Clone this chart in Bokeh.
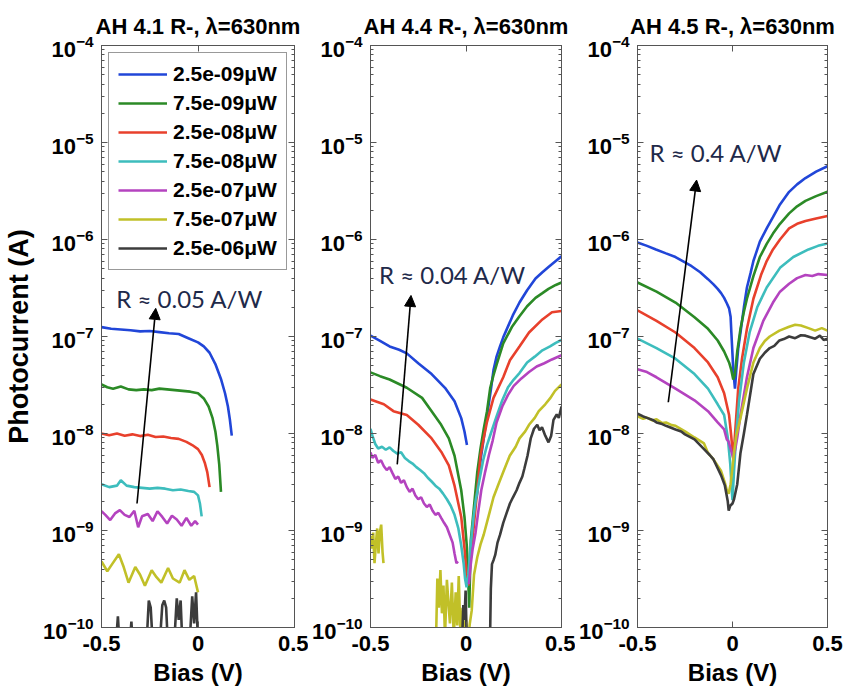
from bokeh.plotting import figure
from bokeh.layouts import row
from bokeh.models import (Range1d, LinearAxis, LogAxis, FixedTicker, LogTickFormatter,
                          CustomJSTickFormatter, Arrow, NormalHead, Label)
from bokeh.embed import file_html
from bokeh.resources import INLINE

NAN = float("nan")

# ---------------------------------------------------------------- labels
power_labels = ["2.5e-09μW", "7.5e-09μW", "2.5e-08μW", "7.5e-08μW",
                "2.5e-07μW", "7.5e-07μW", "2.5e-06μW"]
line_colors = ["#2146d8", "#2b8a26", "#e8402c", "#3dbdbd", "#b443bf", "#c1c028", "#3c3c3c"]
panel_titles = ["AH 4.1 R-, λ=630nm", "AH 4.4 R-, λ=630nm", "AH 4.5 R-, λ=630nm"]
responsivity_notes = ["R ≈ 0.05 A/W", "R ≈ 0.04 A/W", "R ≈ 0.4 A/W"]
bias_ticks = [-0.5, 0.0, 0.5]
bias_tick_labels = ["-0.5", "0", "0.5"]
current_decades = [1e-10, 1e-9, 1e-8, 1e-7, 1e-6, 1e-5, 1e-4]

# ---------------------------------------------------------------- AH 4.1
ah41_blue_v = [-0.5, -0.45, -0.4, -0.35, -0.3, -0.25, -0.2, -0.15, -0.1, -0.05, 0.0, 0.03,
               0.06, 0.09, 0.12, 0.14, 0.155, 0.165, 0.175]
ah41_blue_i = [1.25e-7, 1.2e-7, 1.18e-7, 1.16e-7, 1.13e-7, 1.14e-7, 1.11e-7, 1.08e-7, 1.06e-7,
               9.6e-8, 8.7e-8, 7.9e-8, 6.8e-8, 5.2e-8, 3.6e-8, 2.6e-8, 1.9e-8, 1.4e-8, 9.5e-9]

ah41_green_v = [-0.5, -0.47, -0.44, -0.4, -0.36, -0.32, -0.28, -0.24, -0.2, -0.16, -0.12, -0.08,
                -0.04, 0.0, 0.03, 0.055, 0.075, 0.09, 0.1, 0.11, 0.119]
ah41_green_i = [3.2e-8, 3.0e-8, 2.9e-8, 3.05e-8, 2.85e-8, 2.8e-8, 2.85e-8, 2.8e-8, 2.9e-8, 2.85e-8,
                2.8e-8, 2.75e-8, 2.7e-8, 2.6e-8, 2.3e-8, 1.9e-8, 1.45e-8, 1.05e-8, 7.5e-9, 4.8e-9, 2.5e-9]

ah41_red_v = [-0.5, -0.46, -0.42, -0.38, -0.34, -0.3, -0.26, -0.22, -0.18, -0.14, -0.1, -0.06,
              -0.03, 0.0, 0.02, 0.035, 0.048, 0.06]
ah41_red_i = [1.0e-8, 9.6e-9, 1.0e-8, 9.5e-9, 9.8e-9, 9.4e-9, 9.7e-9, 9.2e-9, 9.3e-9, 9.0e-9,
              8.8e-9, 8.2e-9, 7.6e-9, 6.9e-9, 6.0e-9, 5.0e-9, 4.0e-9, 2.8e-9]

ah41_cyan_v = [-0.5, -0.46, -0.42, -0.4, -0.37, -0.33, -0.29, -0.25, -0.21, -0.17, -0.13, -0.09,
               -0.05, -0.02, 0.0, 0.01, 0.019]
ah41_cyan_i = [3.0e-9, 2.8e-9, 2.9e-9, 3.3e-9, 2.9e-9, 2.8e-9, 2.75e-9, 2.7e-9, 2.75e-9, 2.7e-9,
               2.6e-9, 2.65e-9, 2.55e-9, 2.5e-9, 2.3e-9, 1.9e-9, 1.4e-9]

ah41_magenta_v = [-0.5, -0.48, -0.455, -0.43, -0.405, -0.38, -0.355, -0.33, -0.31, -0.29, -0.26,
                  -0.235, -0.21, -0.185, -0.16, -0.135, -0.11, -0.085, -0.06, -0.035, -0.015, 0.0]
ah41_magenta_i = [1.58e-9, 1.45e-9, 1.28e-9, 1.5e-9, 1.62e-9, 1.45e-9, 1.38e-9, 1.6e-9, 1.08e-9,
                  1.4e-9, 1.48e-9, 1.25e-9, 1.58e-9, 1.38e-9, 1.18e-9, 1.42e-9, 1.3e-9, 1.12e-9,
                  1.35e-9, 1.12e-9, 1.25e-9, 1.15e-9]

ah41_yellow_v = [-0.5, -0.47, -0.445, -0.41, -0.385, -0.36, -0.325, -0.3, -0.275, -0.24, -0.215,
                 -0.19, -0.155, -0.13, -0.095, -0.07, -0.045, -0.02, 0.0]
ah41_yellow_i = [4.8e-10, 3.8e-10, 4.5e-10, 5.7e-10, 4.2e-10, 2.9e-10, 4.2e-10, 3.5e-10, 2.7e-10,
                 3.9e-10, 3.3e-10, 2.9e-10, 4.1e-10, 3.2e-10, 2.9e-10, 3.9e-10, 3.1e-10, 3.4e-10, 2.3e-10]

ah41_black_v = [-0.43, -0.415, -0.405, -0.36, -0.345, -0.335, -0.27, -0.255, -0.245, -0.235, -0.2,
                -0.185, -0.175, -0.165, -0.155, -0.125, -0.11, -0.1, -0.09, -0.08, -0.045, -0.03,
                -0.02, -0.01, 0.0]
ah41_black_i = [5e-11, 1.3e-10, 6e-11, 5e-11, 1.15e-10, 5e-11, 5e-11, 1.9e-10, 1.6e-10, 7e-11, 6e-11,
                1.7e-10, 1.9e-10, 1.6e-10, 6e-11, 6e-11, 2.0e-10, 1.2e-10, 1.9e-10, 6e-11, 6e-11,
                2.1e-10, 1.1e-10, 2.3e-10, 7e-11]

# ---------------------------------------------------------------- AH 4.4
ah44_blue_v = [-0.5, -0.45, -0.4, -0.35, -0.31, -0.25, -0.18, -0.11, -0.06, -0.025, -0.008, 0.005,
               NAN, 0.056, 0.068, 0.08, 0.093, 0.106, 0.119, 0.132, 0.144, 0.16, 0.178, 0.195,
               0.212, 0.245, 0.28, 0.32, 0.364, 0.4, 0.432, 0.47, 0.5]
ah44_blue_i = [1.02e-7, 9.0e-8, 7.9e-8, 7.3e-8, 6.7e-8, 5.3e-8, 4.1e-8, 2.96e-8, 2.15e-8, 1.44e-8,
               1.05e-8, 7.6e-9, NAN, 2.15e-9, 4.0e-9, 6.0e-9, 8.9e-9, 1.35e-8, 2.0e-8, 3.0e-8,
               4.5e-8, 6.2e-8, 7.9e-8, 9.8e-8, 1.17e-7, 1.65e-7, 2.24e-7, 3.0e-7, 3.96e-7, 4.6e-7,
               5.2e-7, 6.0e-7, 6.7e-7]

ah44_green_v = [-0.5, -0.45, -0.4, -0.31, -0.23, -0.18, -0.13, -0.09, -0.06, -0.025, -0.008, 0.005,
                0.017, 0.025, 0.042, 0.059, 0.076, 0.093, 0.11, 0.127, 0.144, 0.161, 0.195, 0.24,
                0.28, 0.32, 0.364, 0.4, 0.432, 0.47, 0.5]
ah44_green_i = [4.27e-8, 3.9e-8, 3.6e-8, 2.96e-8, 2.33e-8, 1.7e-8, 1.23e-8, 8.9e-9, 5.9e-9, 2.6e-9,
                1.38e-9, 6.6e-10, 1.6e-10, 7.9e-10, 1.78e-9, 4.0e-9, 7.0e-9, 1.12e-8, 1.7e-8,
                2.96e-8, 4.0e-8, 5.2e-8, 8.5e-8, 1.25e-7, 1.62e-7, 2.05e-7, 2.5e-7, 2.8e-7, 3.1e-7,
                3.4e-7, 3.6e-7]

ah44_red_v = [-0.5, -0.43, -0.38, -0.31, -0.25, -0.18, -0.13, -0.09, -0.06, -0.025, -0.008, 0.003,
              0.012, 0.025, 0.042, 0.059, 0.076, 0.093, 0.11, 0.144, 0.195, 0.23, 0.28, 0.33, 0.4,
              0.45, 0.5]
ah44_red_i = [2.24e-8, 2.0e-8, 1.7e-8, 1.55e-8, 1.23e-8, 8.9e-9, 6.5e-9, 4.7e-9, 2.9e-9, 1.38e-9,
              6.6e-10, 3.5e-10, 2.7e-10, 5.2e-10, 1.18e-9, 2.6e-9, 5.9e-9, 9.0e-9, 1.32e-8, 2.33e-8,
              3.8e-8, 5.7e-8, 7.9e-8, 1.1e-7, 1.5e-7, 1.78e-7, 1.83e-7]

ah44_cyan_v = [-0.5, -0.49, -0.475, -0.46, -0.44, -0.42, -0.4, -0.38, -0.36, -0.34, -0.32, -0.3,
               -0.28, -0.26, -0.24, -0.22, -0.2, -0.18, -0.16, -0.14, -0.12, -0.1, -0.08, -0.06,
               -0.04, -0.025, -0.012, -0.005, 0.003, 0.012, 0.02, 0.03, 0.04, 0.05, 0.07, 0.09,
               0.11, 0.13, 0.16, 0.19, 0.22, 0.25, 0.28, 0.32, 0.36, 0.4, 0.44, 0.47, 0.5]
ah44_cyan_i = [1.12e-8, 9.5e-9, 7.8e-9, 7.0e-9, 7.3e-9, 6.8e-9, 7.2e-9, 6.6e-9, 6.2e-9, 6.4e-9,
               5.6e-9, 5.2e-9, 4.9e-9, 4.5e-9, 4.2e-9, 3.9e-9, 3.5e-9, 3.2e-9, 2.9e-9, 2.7e-9,
               2.4e-9, 2.1e-9, 1.8e-9, 1.45e-9, 1.05e-9, 7e-10, 4.5e-10, 3.2e-10, 2.6e-10, 3.5e-10,
               5.5e-10, 9e-10, 1.4e-9, 2.0e-9, 3.3e-9, 5.3e-9, 7.6e-9, 1.0e-8, 1.5e-8, 2.2e-8,
               3.0e-8, 3.6e-8, 4.2e-8, 5.4e-8, 6.2e-8, 7.2e-8, 7.9e-8, 8.6e-8, 9.2e-8]

ah44_magenta_v = [-0.5, -0.49, -0.475, -0.46, -0.445, -0.43, -0.415, -0.4, -0.385, -0.37, -0.355,
                  -0.34, -0.325, -0.31, -0.295, -0.28, -0.265, -0.25, -0.235, -0.22, -0.205, -0.19,
                  -0.175, -0.16, -0.145, -0.13, -0.115, -0.1, -0.085, -0.07, -0.06, -0.05, -0.042,
                  NAN, 0.015, 0.025, 0.035, 0.05, 0.065, 0.08, 0.1, 0.12, 0.14, 0.16, 0.19, 0.22,
                  0.25, 0.29, 0.33, 0.37, 0.41, 0.45, 0.5]
ah44_magenta_i = [6.4e-9, 5.6e-9, 6.0e-9, 5.0e-9, 5.3e-9, 4.6e-9, 4.2e-9, 4.5e-9, 3.9e-9, 3.4e-9,
                  3.6e-9, 3.1e-9, 3.3e-9, 2.8e-9, 2.5e-9, 2.7e-9, 2.3e-9, 2.1e-9, 2.2e-9, 1.9e-9,
                  1.75e-9, 1.85e-9, 1.6e-9, 1.45e-9, 1.52e-9, 1.35e-9, 1.2e-9, 1.08e-9, 9e-10,
                  7.5e-10, 5.8e-10, 4.6e-10, 4.8e-10, NAN, 2.8e-10, 4.5e-10, 6.5e-10, 9.5e-10,
                  1.6e-9, 2.6e-9, 4.0e-9, 6.0e-9, 8.5e-9, 1.3e-8, 1.9e-8, 2.5e-8, 3.1e-8, 3.7e-8,
                  4.3e-8, 4.9e-8, 5.3e-8, 5.8e-8, 6.4e-8]

ah44_yellow_v = [-0.5, -0.493, -0.486, -0.479, -0.472, -0.465, -0.458, -0.451, -0.444, -0.437,
                 -0.432, NAN, -0.158, -0.15, -0.142, -0.134, -0.126, -0.118, -0.11, -0.1, -0.092,
                 -0.084, -0.074, -0.064, -0.054, -0.046, -0.038, -0.028, -0.018, -0.01, 0.0, 0.01,
                 0.02, 0.03, 0.042, 0.059, 0.076, 0.093, 0.12, 0.144, 0.17, 0.195, 0.229, 0.26,
                 0.28, 0.31, 0.33, 0.36, 0.381, 0.415, 0.44, 0.466, 0.5]
ah44_yellow_i = [8.8e-10, 6.5e-10, 9.5e-10, 4.6e-10, 7.2e-10, 1.05e-9, 5.8e-10, 9.6e-10, 1.15e-9,
                 6.0e-10, 4.6e-10, NAN, 6e-11, 3.2e-10, 1.6e-10, 3.9e-10, 1.4e-10, 2.7e-10, 8e-11,
                 3.1e-10, 1.8e-10, 1.1e-10, 2.9e-10, 8e-11, 2.3e-10, 1.05e-10, 3.4e-10, 7e-11,
                 1.6e-10, 7e-11, 1.2e-10, 7e-11, 1.1e-10, 1.5e-10, 3.5e-10, 5.3e-10, 7.2e-10,
                 9.1e-10, 1.45e-9, 2.2e-9, 3.0e-9, 4.0e-9, 5.9e-9, 7.3e-9, 8.9e-9, 1.05e-8,
                 1.23e-8, 1.45e-8, 1.7e-8, 2.0e-8, 2.3e-8, 2.75e-8, 3.2e-8]

ah44_black_v = [-0.022, -0.014, -0.008, -0.002, 0.004, NAN, 0.125, 0.13, 0.136, 0.145, 0.153,
                0.165, 0.178, 0.195, 0.212, 0.23, 0.246, 0.265, 0.28, 0.295, 0.305, 0.322, 0.339,
                0.356, 0.373, 0.385, 0.398, 0.415, 0.432, 0.446, 0.458, 0.475, 0.486, 0.5]
ah44_black_i = [6e-11, 1.7e-10, 1.2e-10, 2.4e-10, 7e-11, NAN, 6e-11, 2.5e-10, 4.5e-10, 5.0e-10,
                5.6e-10, 7.5e-10, 9.0e-10, 1.2e-9, 1.5e-9, 1.9e-9, 2.2e-9, 2.6e-9, 3.1e-9, 3.6e-9,
                4.3e-9, 5.9e-9, 8.9e-9, 1.12e-8, 1.23e-8, 1.08e-8, 1.16e-8, 9.5e-9, 8.1e-9, 9.5e-9,
                1.38e-8, 1.57e-8, 1.45e-8, 1.9e-8]

# ---------------------------------------------------------------- AH 4.5
ah45_blue_v = [-0.5, -0.45, -0.403, -0.35, -0.3, -0.25, -0.215, -0.17, -0.129, -0.1, -0.078, -0.06,
               -0.044, -0.03, -0.018, -0.01, -0.006, 0.0, 0.004, 0.013, 0.02, 0.03, 0.042, 0.06,
               0.076, 0.095, 0.11, 0.144, 0.18, 0.213, 0.25, 0.298, 0.34, 0.384, 0.44, 0.5]
ah45_blue_i = [9.3e-7, 8.6e-7, 7.9e-7, 7.2e-7, 6.6e-7, 5.8e-7, 5.3e-7, 4.6e-7, 3.9e-7, 3.45e-7,
               3.1e-7, 2.8e-7, 2.5e-7, 2.2e-7, 1.95e-7, 1.6e-7, 1.1e-7, 6.5e-8, 4.5e-8, 2.9e-8,
               4.5e-8, 7.5e-8, 1.1e-7, 2.0e-7, 3.2e-7, 4.5e-7, 6.0e-7, 9.5e-7, 1.3e-6, 1.7e-6,
               2.3e-6, 3.1e-6, 3.7e-6, 4.3e-6, 5.0e-6, 5.7e-6]

ah45_green_v = [-0.5, -0.4, -0.3, -0.2, -0.129, -0.078, -0.044, -0.018, -0.006, 0.004, 0.012, 0.025,
                0.042, 0.06, 0.076, 0.11, 0.144, 0.18, 0.213, 0.25, 0.298, 0.34, 0.384, 0.44, 0.5]
ah45_green_i = [3.6e-7, 2.9e-7, 2.24e-7, 1.58e-7, 1.2e-7, 9.1e-8, 7.0e-8, 5.4e-8, 4.5e-8, 3.6e-8,
                4.0e-8, 7.0e-8, 1.2e-7, 1.8e-7, 2.45e-7, 4.2e-7, 6.6e-7, 9.0e-7, 1.15e-6, 1.45e-6,
                1.86e-6, 2.2e-6, 2.5e-6, 2.8e-6, 3.1e-6]

ah45_red_v = [-0.5, -0.4, -0.3, -0.2, -0.129, -0.078, -0.044, -0.018, -0.006, 0.004, 0.015, 0.03,
              0.05, 0.076, 0.11, 0.15, 0.18, 0.213, 0.25, 0.298, 0.34, 0.384, 0.44, 0.5]
ah45_red_i = [1.86e-7, 1.45e-7, 1.1e-7, 7.6e-8, 5.4e-8, 3.8e-8, 2.6e-8, 1.55e-8, 9.1e-9, 5.4e-9,
              1.1e-8, 2.9e-8, 5.9e-8, 1.2e-7, 2.45e-7, 4.3e-7, 6.0e-7, 7.9e-7, 1.0e-6, 1.3e-6,
              1.45e-6, 1.55e-6, 1.65e-6, 1.75e-6]

ah45_cyan_v = [-0.5, -0.4, -0.3, -0.2, -0.129, -0.078, -0.044, -0.025, -0.012, -0.004, 0.0, 0.008,
               0.02, 0.035, 0.06, 0.09, 0.13, 0.18, 0.25, 0.32, 0.4, 0.45, 0.5]
ah45_cyan_i = [9.5e-8, 7.6e-8, 5.9e-8, 4.1e-8, 2.9e-8, 2.0e-8, 1.55e-8, 9.1e-9, 4.9e-9, 2.6e-9,
               2.05e-9, 4.1e-9, 1.0e-8, 2.2e-8, 5.4e-8, 1.1e-7, 2.0e-7, 3.2e-7, 5.1e-7, 6.6e-7,
               7.9e-7, 8.6e-7, 9.1e-7]

ah45_magenta_v = [-0.5, -0.45, -0.4, -0.3, -0.2, -0.129, -0.078, -0.044, -0.03, -0.021, 0.004,
                  0.015, 0.025, 0.042, 0.06, 0.076, 0.11, 0.162, 0.213, 0.25, 0.298, 0.34, 0.384,
                  0.42, 0.452, 0.5]
ah45_magenta_i = [4.6e-8, 4.3e-8, 3.8e-8, 2.9e-8, 2.2e-8, 1.7e-8, 1.3e-8, 1.1e-8, 8.7e-9, 8.3e-9,
                  5.6e-9, 7e-9, 9.1e-9, 1.55e-8, 2.5e-8, 3.8e-8, 7.6e-8, 1.45e-7, 2.24e-7, 2.9e-7,
                  3.5e-7, 4.0e-7, 4.3e-7, 4.2e-7, 4.4e-7, 4.3e-7]

ah45_yellow_v = [-0.5, -0.47, -0.45, -0.42, -0.4, -0.37, -0.35, -0.32, -0.3, -0.25, -0.2, -0.15,
                 -0.129, -0.1, -0.06, -0.04, -0.03, -0.02, -0.01, 0.0, 0.008, 0.02, 0.042, 0.076,
                 0.11, 0.144, 0.17, 0.196, 0.247, 0.298, 0.33, 0.36, 0.4, 0.435, 0.47, 0.5]
ah45_yellow_i = [1.5e-8, 1.42e-8, 1.46e-8, 1.36e-8, 1.4e-8, 1.28e-8, 1.3e-8, 1.22e-8, 1.2e-8,
                 1.05e-8, 9.1e-9, 7.9e-9, 6.3e-9, 5.4e-9, 4.1e-9, 3.1e-9, 2.6e-9, 2.4e-9, 3.0e-9,
                 4.5e-9, 6.3e-9, 9.5e-9, 1.45e-8, 2.9e-8, 5.4e-8, 7.6e-8, 9.0e-8, 1.0e-7, 1.15e-7,
                 1.26e-7, 1.32e-7, 1.3e-7, 1.22e-7, 1.15e-7, 1.22e-7, 1.15e-7]

ah45_black_v = [-0.5, -0.47, -0.45, -0.42, -0.4, -0.37, -0.35, -0.3, -0.27, -0.25, -0.2, -0.15,
                -0.12, -0.1, -0.06, -0.04, -0.025, -0.02, -0.012, 0.0, 0.008, 0.025, 0.042, 0.06,
                0.076, 0.11, 0.144, 0.17, 0.196, 0.22, 0.247, 0.27, 0.298, 0.33, 0.36, 0.384,
                0.41, 0.435, 0.46, 0.48, 0.5]
ah45_black_i = [1.6e-8, 1.5e-8, 1.45e-8, 1.38e-8, 1.3e-8, 1.25e-8, 1.2e-8, 1.1e-8, 1.05e-8, 9.8e-9,
                8.7e-9, 6.9e-9, 6.0e-9, 5.4e-9, 3.7e-9, 2.9e-9, 2.0e-9, 1.6e-9, 1.8e-9, 1.9e-9,
                2.1e-9, 3.0e-9, 6.3e-9, 1.0e-8, 1.55e-8, 4.1e-8, 5.9e-8, 6.8e-8, 7.6e-8, 8.0e-8,
                9.1e-8, 9.4e-8, 1.0e-7, 9.6e-8, 1.03e-7, 1.02e-7, 9.8e-8, 9.5e-8, 1.02e-7, 9.2e-8,
                9.5e-8]

panel_curves = [
    [(ah41_blue_v, ah41_blue_i), (ah41_green_v, ah41_green_i), (ah41_red_v, ah41_red_i),
     (ah41_cyan_v, ah41_cyan_i), (ah41_magenta_v, ah41_magenta_i),
     (ah41_yellow_v, ah41_yellow_i), (ah41_black_v, ah41_black_i)],
    [(ah44_blue_v, ah44_blue_i), (ah44_green_v, ah44_green_i), (ah44_red_v, ah44_red_i),
     (ah44_cyan_v, ah44_cyan_i), (ah44_magenta_v, ah44_magenta_i),
     (ah44_yellow_v, ah44_yellow_i), (ah44_black_v, ah44_black_i)],
    [(ah45_blue_v, ah45_blue_i), (ah45_green_v, ah45_green_i), (ah45_red_v, ah45_red_i),
     (ah45_cyan_v, ah45_cyan_i), (ah45_magenta_v, ah45_magenta_i),
     (ah45_yellow_v, ah45_yellow_i), (ah45_black_v, ah45_black_i)],
]

# ---------------------------------------------------------------- styling
FONT = "Liberation Sans"
NOTE_FONT = "Lato"
NOTE_COLOR = "#1f2a4a"
AXIS_GREY = "#555555"

minor_current_ticks = [k * d for d in current_decades[:-1] for k in range(2, 10)]


def style_axis(ax, show_labels):
    ax.axis_line_color = AXIS_GREY
    ax.major_tick_line_color = AXIS_GREY
    ax.minor_tick_line_color = AXIS_GREY
    ax.major_tick_in = 6
    ax.major_tick_out = 0
    ax.minor_tick_in = 3
    ax.minor_tick_out = 0
    ax.major_label_text_font = FONT
    ax.major_label_text_font_style = "bold"
    ax.major_label_text_font_size = "22px"
    ax.major_label_text_color = "black"
    ax.axis_label_text_color = "black"
    if not show_labels:
        ax.formatter = CustomJSTickFormatter(code="return '';")
        ax.major_label_standoff = 0


def make_panel(idx, width, border_left, border_right, arrow, note):
    p = figure(width=width, height=691, title=panel_titles[idx],
               x_range=Range1d(-0.5, 0.5), y_range=Range1d(1e-10, 1e-4),
               y_axis_type="log", output_backend="svg", toolbar_location=None,
               min_border_left=border_left, min_border_right=border_right,
               min_border_top=45, min_border_bottom=64)
    p.grid.visible = False
    p.outline_line_color = AXIS_GREY
    p.background_fill_color = "white"
    p.border_fill_color = "white"

    p.title.text_font = FONT
    p.title.text_font_size = "22px"
    p.title.text_font_style = "bold"
    p.title.text_color = "black"
    p.title.align = "center"
    p.title.standoff = 13

    x_ticker = FixedTicker(ticks=bias_ticks, minor_ticks=[])
    y_ticker = FixedTicker(ticks=current_decades, minor_ticks=minor_current_ticks)

    xax = p.xaxis[0]
    xax.ticker = x_ticker
    xax.major_label_overrides = {t: s for t, s in zip(bias_ticks, bias_tick_labels)}
    style_axis(xax, True)
    xax.major_label_standoff = 8
    xax.axis_label = "Bias (V)"
    xax.axis_label_text_font = FONT
    xax.axis_label_text_font_size = "24px"
    xax.axis_label_text_font_style = "bold"
    xax.axis_label_standoff = 5

    yax = p.yaxis[0]
    yax.ticker = y_ticker
    yax.formatter = LogTickFormatter()
    style_axis(yax, True)
    yax.major_label_standoff = 8

    top = LinearAxis(ticker=x_ticker)
    style_axis(top, False)
    p.add_layout(top, "above")
    right = LogAxis(ticker=y_ticker)
    style_axis(right, False)
    p.add_layout(right, "right")

    for (v, i), color, label in zip(panel_curves[idx], line_colors, power_labels):
        if idx == 0:
            p.line(v, i, line_color=color, line_width=2.6, legend_label=label)
        else:
            p.line(v, i, line_color=color, line_width=2.6)

    (x0, y0), (x1, y1) = arrow
    p.add_layout(Arrow(end=NormalHead(size=11, fill_color="black", line_color="black"),
                       x_start=x0, y_start=y0, x_end=x1, y_end=y1,
                       line_color="black", line_width=1.6))
    nx, ny = note
    p.add_layout(Label(x=nx, y=ny, text=responsivity_notes[idx], text_font=NOTE_FONT,
                       text_font_size="24px", text_color=NOTE_COLOR,
                       text_baseline="middle", text_align="left"))
    return p


p1 = make_panel(0, 308, 98, 14, ((-0.316, 1.9e-9), (-0.219, 1.95e-7)), (-0.423, 2.45e-7))
p2 = make_panel(1, 267, 55, 14, ((-0.36, 4.8e-9), (-0.288, 2.65e-7)), (-0.455, 4.4e-7))
p3 = make_panel(2, 273, 56, 21, ((-0.338, 2.1e-8), (-0.189, 4.1e-6)), (-0.437, 7.9e-6))

yax = p1.yaxis[0]
yax.axis_label = "Photocurrent (A)"
yax.axis_label_text_font = FONT
yax.axis_label_text_font_size = "27px"
yax.axis_label_text_font_style = "bold"
yax.axis_label_text_color = "black"
yax.axis_label_standoff = 6

leg = p1.legend[0]
leg.location = "top_left"
leg.margin = 7
leg.padding = 9
leg.spacing = 5
leg.glyph_width = 49
leg.glyph_height = 24
leg.label_height = 24
leg.label_standoff = 6
leg.label_text_font = FONT
leg.label_text_font_size = "21px"
leg.label_text_font_style = "bold"
leg.label_text_color = "black"
leg.border_line_color = "#333333"
leg.border_line_width = 1
leg.background_fill_alpha = 1.0

layout = row(p1, p2, p3)
open("out.html", "w").write(file_html(layout, INLINE))
